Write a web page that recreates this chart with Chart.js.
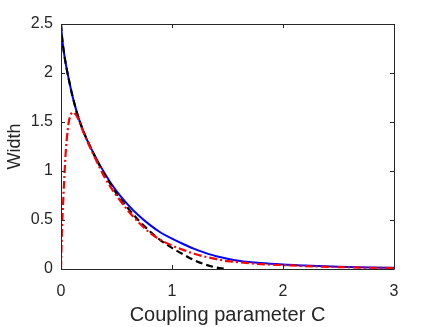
<!DOCTYPE html>
<html>
<head>
<meta charset="utf-8">
<script src="https://cdn.jsdelivr.net/npm/chart.js@4.4.1/dist/chart.umd.min.js"></script>
<style>
  html, body { margin: 0; padding: 0; background: #ffffff; }
  #wrap { width: 436px; height: 327px; }
</style>
</head>
<body>
<div id="wrap"><canvas id="c" width="436" height="327"></canvas></div>
<script>
// Tick labels
const xTicks = [0, 1, 2, 3];
const yTicks = [0, 0.5, 1, 1.5, 2, 2.5];

// Blue solid series
const blueC = [0, 0.01, 0.025, 0.05, 0.075, 0.1, 0.125, 0.15, 0.2, 0.25, 0.3, 0.35, 0.4, 0.45, 0.5, 0.6, 0.7, 0.8, 0.9, 1.0, 1.1, 1.2, 1.3, 1.4, 1.5, 1.6, 1.8, 2.0, 2.2, 2.5, 2.8, 3.0];
const blueW = [2.5, 2.36, 2.22, 2.05, 1.91, 1.78, 1.67, 1.57, 1.41, 1.28, 1.165, 1.06, 0.965, 0.875, 0.795, 0.66, 0.545, 0.45, 0.37, 0.31, 0.255, 0.205, 0.165, 0.13, 0.105, 0.085, 0.06, 0.045, 0.035, 0.022, 0.015, 0.012];

// Black dashed series
const blackC = [0, 0.01, 0.025, 0.05, 0.075, 0.1, 0.125, 0.15, 0.2, 0.25, 0.3, 0.35, 0.4, 0.45, 0.5, 0.6, 0.7, 0.8, 0.9, 1.0, 1.1, 1.2, 1.3, 1.4, 1.5];
const blackW = [2.5, 2.36, 2.22, 2.05, 1.91, 1.78, 1.67, 1.57, 1.41, 1.28, 1.16, 1.05, 0.95, 0.86, 0.77, 0.625, 0.495, 0.385, 0.29, 0.215, 0.15, 0.09, 0.045, 0.015, 0.0];

// Red dash-dot series
const redC = [0, 0.005, 0.01, 0.02, 0.03, 0.04, 0.05, 0.07, 0.09, 0.11, 0.13, 0.16, 0.2, 0.25, 0.3, 0.35, 0.4, 0.45, 0.5, 0.6, 0.7, 0.8, 0.9, 1.0, 1.1, 1.2, 1.3, 1.4, 1.5, 1.6, 1.8, 2.0, 2.2, 2.5, 2.8, 3.0];
const redW = [0, 0.25, 0.44, 0.70, 0.93, 1.15, 1.30, 1.50, 1.58, 1.60, 1.58, 1.52, 1.40, 1.27, 1.15, 1.03, 0.92, 0.83, 0.75, 0.60, 0.475, 0.37, 0.295, 0.24, 0.195, 0.155, 0.125, 0.10, 0.08, 0.07, 0.05, 0.04, 0.03, 0.02, 0.013, 0.01];

const toPts = (xs, ys) => xs.map((x, i) => ({ x: x, y: ys[i] }));
const AX = '#262626';
const FONT = "'Liberation Sans', Arial, sans-serif";

const boxPlugin = {
  id: 'box',
  afterDatasetsDraw(chart) {
    const { ctx, chartArea: a, scales } = chart;
    ctx.save();
    ctx.strokeStyle = AX;
    ctx.lineWidth = 1;
    ctx.beginPath();
    ctx.rect(Math.round(a.left) + 0.5, Math.round(a.top) + 0.5, Math.round(a.right - a.left), Math.round(a.bottom - a.top));
    ctx.stroke();
    const L = 4;
    ctx.beginPath();
    scales.x.ticks.forEach(t => {
      const px = Math.round(scales.x.getPixelForValue(t.value)) + 0.5;
      ctx.moveTo(px, a.bottom); ctx.lineTo(px, a.bottom - L);
      ctx.moveTo(px, a.top); ctx.lineTo(px, a.top + L);
    });
    scales.y.ticks.forEach(t => {
      const py = Math.round(scales.y.getPixelForValue(t.value)) + 0.5;
      ctx.moveTo(a.left, py); ctx.lineTo(a.left + L, py);
      ctx.moveTo(a.right, py); ctx.lineTo(a.right - L, py);
    });
    ctx.stroke();
    ctx.restore();
  }
};

new Chart(document.getElementById('c'), {
  type: 'scatter',
  data: {
    datasets: [
      { data: toPts(blueC, blueW), borderColor: '#0000ff', borderWidth: 2, showLine: true, pointRadius: 0, cubicInterpolationMode: 'monotone', fill: false, order: 3 },
      { data: toPts(blackC, blackW), borderColor: '#000000', borderWidth: 2.2, borderDash: [7, 4], showLine: true, pointRadius: 0, cubicInterpolationMode: 'monotone', fill: false, order: 2 },
      { data: toPts(redC, redW), borderColor: '#ff0000', borderWidth: 2.2, borderDash: [8, 3, 2, 3], showLine: true, pointRadius: 0, cubicInterpolationMode: 'monotone', fill: false, order: 1 }
    ]
  },
  options: {
    responsive: false,
    animation: false,
    devicePixelRatio: 1,
    layout: { padding: { top: 24, right: 42, left: 0, bottom: 0 } },
    plugins: { legend: { display: false }, tooltip: { enabled: false } },
    scales: {
      x: {
        type: 'linear', min: 0, max: 3,
        afterBuildTicks: s => { s.ticks = xTicks.map(v => ({ value: v })); },
        afterFit: s => { s.height = 58; },
        grid: { display: false, drawTicks: false },
        border: { display: false },
        ticks: { color: AX, font: { family: FONT, size: 16 }, padding: 13, callback: v => String(v) },
        title: { display: true, text: 'Coupling parameter C', color: AX, font: { family: FONT, size: 20 }, padding: { top: 2, bottom: 0 } }
      },
      y: {
        type: 'linear', min: 0, max: 2.5,
        afterBuildTicks: s => { s.ticks = yTicks.map(v => ({ value: v })); },
        afterFit: s => { s.width = 61; },
        grid: { display: false, drawTicks: false },
        border: { display: false },
        ticks: { color: AX, font: { family: FONT, size: 16 }, padding: 8, callback: v => String(v) },
        title: { display: true, text: 'Width', color: AX, font: { family: FONT, size: 18 }, padding: { top: 4, bottom: 0 } }
      }
    }
  },
  plugins: [boxPlugin]
});
</script>
</body>
</html>
